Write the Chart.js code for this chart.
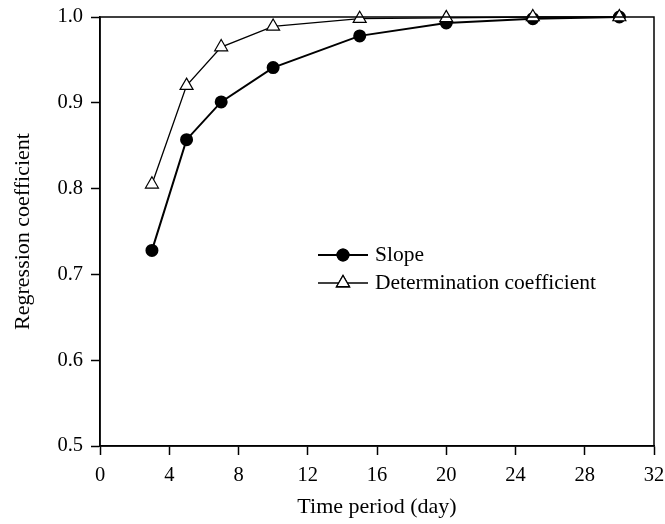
<!DOCTYPE html>
<html>
<head>
<meta charset="utf-8">
<script src="https://cdn.jsdelivr.net/npm/chart.js@4.4.1/dist/chart.umd.min.js"></script>
<style>
    html, body { margin: 0; padding: 0; background: #fff; }
    #wrap { width: 665px; height: 524px; position: relative; }
</style>
</head>
<body>
<div id="wrap"><canvas id="chart"></canvas></div>
<script>
const days = [3, 5, 7, 10, 15, 20, 25, 30];
const slopeValues = [0.728, 0.857, 0.901, 0.941, 0.978, 0.993, 0.998, 1.0];
const determinationValues = [0.805, 0.920, 0.965, 0.989, 0.998, 0.999, 1.0, 1.0];
const seriesNames = ['Slope', 'Determination coefficient'];
const xTitle = 'Time period (day)';
const yTitle = 'Regression coefficient';

const FONT = '"Liberation Serif", "Times New Roman", serif';

function toPoints(values) {
    return days.map((d, i) => ({ x: d, y: values[i] }));
}

// frame around the plot area + legend drawn inside it
const framePlugin = {
    id: 'frame',
    afterDraw(chart) {
        const { ctx, chartArea } = chart;
        ctx.save();
        ctx.strokeStyle = '#000';
        ctx.lineWidth = 1.5;
        ctx.strokeRect(chartArea.left, chartArea.top, chartArea.right - chartArea.left, chartArea.bottom - chartArea.top);

        const items = [
            { name: seriesNames[0], y: 255, style: 'circle', fill: '#000', r: 5.5, lw: 2 },
            { name: seriesNames[1], y: 283, style: 'triangle', fill: '#fff', r: 7.5, lw: 1.3 }
        ];
        items.forEach(item => {
            ctx.strokeStyle = '#000';
            ctx.lineWidth = item.lw;
            ctx.beginPath();
            ctx.moveTo(318, item.y);
            ctx.lineTo(368, item.y);
            ctx.stroke();
            Chart.helpers.drawPoint(ctx, {
                pointStyle: item.style,
                radius: item.r,
                borderWidth: 1.2,
                rotation: 0
            }, 343, item.y);
            ctx.fillStyle = item.fill;
            ctx.fill();
            ctx.stroke();
            ctx.fillStyle = '#000';
            ctx.font = '21.5px ' + FONT;
            ctx.textBaseline = 'middle';
            ctx.textAlign = 'left';
            ctx.fillText(item.name, 375, item.y);
        });
        ctx.restore();
    }
};

new Chart(document.getElementById('chart'), {
    type: 'scatter',
    data: {
        datasets: [
            {
                label: seriesNames[0],
                data: toPoints(slopeValues),
                showLine: true,
                borderColor: '#000',
                borderWidth: 2,
                pointStyle: 'circle',
                pointRadius: 5.5,
                pointBackgroundColor: '#000',
                pointBorderColor: '#000',
                order: 1,
                clip: false
            },
            {
                label: seriesNames[1],
                data: toPoints(determinationValues),
                showLine: true,
                borderColor: '#000',
                borderWidth: 1.3,
                pointStyle: 'triangle',
                pointRadius: 7.5,
                pointBorderWidth: 1.2,
                pointBackgroundColor: '#fff',
                pointBorderColor: '#000',
                order: 0,
                clip: false
            }
        ]
    },
    options: {
        responsive: true,
        maintainAspectRatio: false,
        animation: false,
        layout: { padding: { top: 17, right: 11, left: 0, bottom: 0 } },
        plugins: {
            legend: { display: false },
            tooltip: { enabled: false }
        },
        scales: {
            x: {
                type: 'linear',
                min: 0,
                max: 32,
                afterFit(scale) {
                    scale.height = 78;
                    scale.paddingLeft = 0;
                    scale.paddingRight = 0;
                },
                ticks: {
                    stepSize: 4,
                    color: '#000',
                    font: { family: FONT, size: 20.5 },
                    padding: 8
                },
                grid: {
                    drawOnChartArea: false,
                    drawTicks: true,
                    tickLength: 9,
                    tickColor: '#000',
                    tickWidth: 1.5
                },
                border: { color: '#000', width: 1.5 },
                title: {
                    display: true,
                    text: xTitle,
                    color: '#000',
                    font: { family: FONT, size: 22 },
                    padding: { top: 0, bottom: 4 }
                }
            },
            y: {
                type: 'linear',
                min: 0.5,
                max: 1.0,
                afterFit(scale) {
                    scale.width = 100;
                    scale.paddingTop = 0;
                    scale.paddingBottom = 0;
                },
                ticks: {
                    stepSize: 0.1,
                    color: '#000',
                    font: { family: FONT, size: 20.5 },
                    padding: 8,
                    callback: v => v.toFixed(1)
                },
                grid: {
                    drawOnChartArea: false,
                    drawTicks: true,
                    tickLength: 9,
                    tickColor: '#000',
                    tickWidth: 1.5
                },
                border: { color: '#000', width: 1.5 },
                title: {
                    display: true,
                    text: yTitle,
                    color: '#000',
                    font: { family: FONT, size: 22 },
                    padding: { top: 10, bottom: 0 }
                }
            }
        }
    },
    plugins: [framePlugin]
});
</script>
</body>
</html>
